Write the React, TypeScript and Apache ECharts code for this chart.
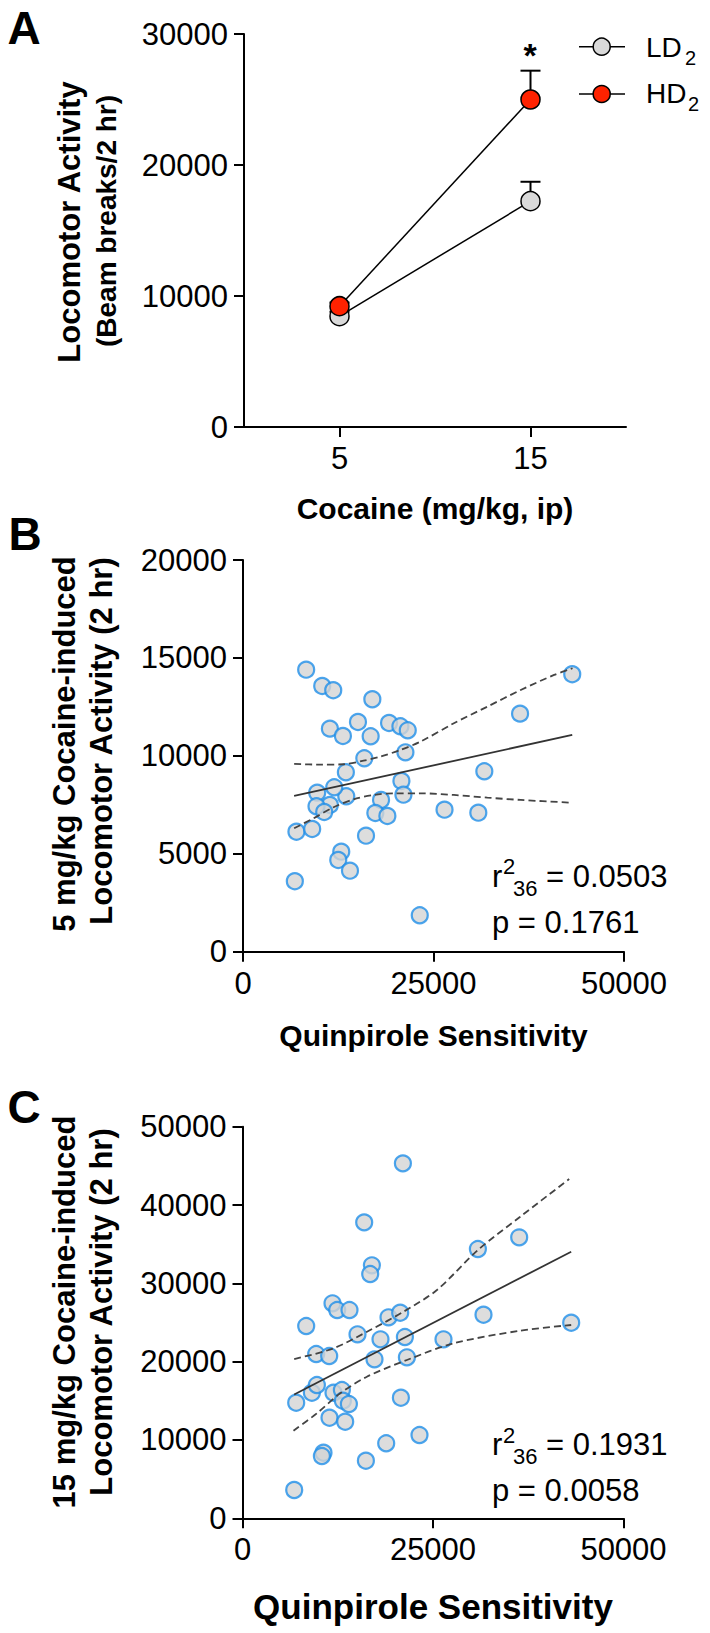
import React, { useEffect, useRef } from 'react';
import * as echarts from 'echarts';

// ---------- Panel A data ----------
const doseCategories = ['5', '15'];
const ldMeans = [8460, 17240];
const ldErrTop = [8800, 18720];
const hdMeans = [9220, 25000];
const hdErrTop = [9500, 27200];

// ---------- Panel B data (5 mg/kg) ----------
const bQuin = [8290, 10395, 11842, 16974, 11404, 13114, 15088, 16754, 19167, 20658, 21623, 21316, 15920, 13500, 20790, 21053, 18116, 17368, 18948, 16145, 13553, 11974, 9737, 11404, 9645, 10658, 7013, 9079, 12895, 12500, 14040, 6803, 26447, 30882, 31671, 36360, 43206, 23197];
const bLoco = [14400, 13570, 13350, 12890, 11390, 11016, 11730, 11000, 11680, 11510, 11306, 10180, 9877, 9160, 8718, 8018, 7748, 7083, 6930, 5924, 7936, 8396, 8120, 7492, 7426, 7135, 6128, 6266, 5107, 4683, 4137, 3600, 7252, 7099, 9213, 12155, 14167, 1860];
const bFitX = [6711, 43206];
const bFitY = [7952, 11067];
const bUpperX = [6711, 10132, 13200, 15833, 18026, 20658, 23290, 27675, 32066, 36447, 40830, 43250];
const bUpperY = [9586, 9551, 9570, 9755, 9959, 10301, 10725, 11664, 12512, 13365, 14131, 14473];
const bLowerX = [6711, 9250, 11882, 14513, 17145, 19776, 23290, 27675, 32066, 36447, 43026];
const bLowerY = [6302, 6811, 7374, 7783, 8003, 8089, 8089, 8003, 7865, 7748, 7610];
const bStats = ['36', '0.0503', '0.1761'];

// ---------- Panel C data (15 mg/kg) ----------
const cQuin = [21050, 15970, 16981, 16758, 30891, 36311, 11811, 12428, 14042, 8359, 19160, 20695, 31627, 43136, 15092, 18110, 21312, 26377, 9672, 11378, 17323, 21574, 7047, 9107, 9763, 11942, 13044, 13175, 13963, 11417, 13477, 20786, 23228, 18858, 16194, 10630, 10420, 6785];
const cLoco = [45320, 37787, 32298, 31188, 34379, 35872, 27447, 26591, 26591, 24549, 25660, 26247, 25992, 24970, 23489, 22851, 23145, 22851, 20975, 20719, 20298, 20553, 14758, 16034, 17017, 16034, 16379, 15013, 14592, 12843, 12332, 15396, 10634, 9574, 7353, 8375, 7953, 3613];
const cFitX = [6785, 43136];
const cFitY = [15800, 34037];
const cUpperX = [6785, 11942, 16758, 21128, 25511, 30891, 36442, 42873];
const cUpperY = [20336, 21702, 24039, 26375, 29145, 34251, 38502, 43317];
const cLowerX = [6693, 9763, 12821, 16325, 21574, 27690, 36442, 43136];
const cLowerY = [11183, 13404, 15958, 18077, 20209, 22340, 23951, 24679];
const cStats = ['36', '0.1931', '0.0058'];

const FONT = '"Liberation Sans", Arial, Helvetica, sans-serif';

const zip = (xs: number[], ys: number[]) => xs.map((x, i) => [x, ys[i]]);

function txt(x: number, y: number, text: string, fontSize: number, opts: any = {}) {
  return {
    type: 'text',
    x,
    y,
    rotation: opts.rotation || 0,
    style: {
      text,
      fontSize,
      fontFamily: FONT,
      fontWeight: opts.bold ? 'bold' : 'normal',
      fill: '#000',
      align: opts.align || 'left',
      verticalAlign: 'middle',
    },
    z: 100,
  };
}

const axisCommon = {
  axisLine: { show: true, lineStyle: { color: '#000', width: 2 } },
  axisTick: { show: true, length: 10, lineStyle: { color: '#000', width: 2 } },
  axisLabel: { color: '#000', fontSize: 31, margin: 16, fontFamily: FONT, formatter: (v: any) => String(v) },
  splitLine: { show: false },
};

export default function App() {
  const ref = useRef<HTMLDivElement>(null);
  useEffect(() => {
    document.body.style.margin = '0';
    if (!ref.current) return;
    const chart = echarts.init(ref.current, undefined, { renderer: 'svg' });

    const errRender = (params: any, api: any) => {
      const i = api.value(0);
      const base = api.coord([i, api.value(1)]);
      const top = api.coord([i, api.value(2)]);
      const w = 10;
      return {
        type: 'group',
        children: [
          { type: 'line', shape: { x1: base[0], y1: base[1], x2: top[0], y2: top[1] }, style: { stroke: '#000', lineWidth: 2 } },
          { type: 'line', shape: { x1: top[0] - w, y1: top[1], x2: top[0] + w, y2: top[1] }, style: { stroke: '#000', lineWidth: 2 } },
        ],
      };
    };

    const scatterStyle = { color: '#d4d4d4', borderColor: '#1f8fe8', borderWidth: 2.2 };
    const fitStyle = { color: '#333', width: 1.8 };
    const ciStyle = { color: '#444', width: 1.8, type: [7, 4] as any };

    const option: any = {
      animation: false,
      grid: [
        { left: 244, top: 34, width: 382, height: 393 },
        { left: 243, top: 560, width: 381, height: 391.7 },
        { left: 242.5, top: 1126.7, width: 381, height: 391.6 },
      ],
      xAxis: [
        { ...axisCommon, gridIndex: 0, type: 'category', data: doseCategories, boundaryGap: true,
          axisTick: { ...axisCommon.axisTick, alignWithLabel: true } },
        { ...axisCommon, gridIndex: 1, type: 'value', min: 0, max: 50000, interval: 25000 },
        { ...axisCommon, gridIndex: 2, type: 'value', min: 0, max: 50000, interval: 25000 },
      ],
      yAxis: [
        { ...axisCommon, gridIndex: 0, type: 'value', min: 0, max: 30000, interval: 10000 },
        { ...axisCommon, gridIndex: 1, type: 'value', min: 0, max: 20000, interval: 5000 },
        { ...axisCommon, gridIndex: 2, type: 'value', min: 0, max: 50000, interval: 10000 },
      ],
      series: [
        // Panel A
        { type: 'custom', xAxisIndex: 0, yAxisIndex: 0, renderItem: errRender, encode: { x: 0, y: [1, 2] },
          data: doseCategories.map((_, i) => [i, ldMeans[i], ldErrTop[i]]), z: 1 },
        { type: 'custom', xAxisIndex: 0, yAxisIndex: 0, renderItem: errRender, encode: { x: 0, y: [1, 2] },
          data: doseCategories.map((_, i) => [i, hdMeans[i], hdErrTop[i]]), z: 1 },
        { type: 'line', name: 'LD2', xAxisIndex: 0, yAxisIndex: 0, data: ldMeans, symbol: 'circle', symbolSize: 19,
          itemStyle: { color: '#d9d9d9', borderColor: '#000', borderWidth: 1.5 }, lineStyle: { color: '#000', width: 1.5 }, z: 3 },
        { type: 'line', name: 'HD2', xAxisIndex: 0, yAxisIndex: 0, data: hdMeans, symbol: 'circle', symbolSize: 19,
          itemStyle: { color: '#ff2200', borderColor: '#000', borderWidth: 1.5 }, lineStyle: { color: '#000', width: 1.5 }, z: 4 },
        // Panel B
        { type: 'scatter', xAxisIndex: 1, yAxisIndex: 1, data: zip(bQuin, bLoco), symbolSize: 16, itemStyle: scatterStyle, z: 2 },
        { type: 'line', xAxisIndex: 1, yAxisIndex: 1, data: zip(bFitX, bFitY), symbol: 'none', lineStyle: fitStyle, z: 5 },
        { type: 'line', xAxisIndex: 1, yAxisIndex: 1, data: zip(bUpperX, bUpperY), symbol: 'none', smooth: 0.3, lineStyle: ciStyle, z: 5 },
        { type: 'line', xAxisIndex: 1, yAxisIndex: 1, data: zip(bLowerX, bLowerY), symbol: 'none', smooth: 0.3, lineStyle: ciStyle, z: 5 },
        // Panel C
        { type: 'scatter', xAxisIndex: 2, yAxisIndex: 2, data: zip(cQuin, cLoco), symbolSize: 16, itemStyle: scatterStyle, z: 2 },
        { type: 'line', xAxisIndex: 2, yAxisIndex: 2, data: zip(cFitX, cFitY), symbol: 'none', lineStyle: fitStyle, z: 5 },
        { type: 'line', xAxisIndex: 2, yAxisIndex: 2, data: zip(cUpperX, cUpperY), symbol: 'none', smooth: 0.3, lineStyle: ciStyle, z: 5 },
        { type: 'line', xAxisIndex: 2, yAxisIndex: 2, data: zip(cLowerX, cLowerY), symbol: 'none', smooth: 0.3, lineStyle: ciStyle, z: 5 },
      ],
      graphic: [
        // panel letters
        txt(24, 28, 'A', 46, { bold: true, align: 'center' }),
        txt(25, 534, 'B', 46, { bold: true, align: 'center' }),
        txt(24, 1107, 'C', 46, { bold: true, align: 'center' }),
        // Panel A axis titles
        txt(69, 222, 'Locomotor Activity', 31, { bold: true, align: 'center', rotation: Math.PI / 2 }),
        txt(106, 221, '(Beam breaks/2 hr)', 28, { bold: true, align: 'center', rotation: Math.PI / 2 }),
        txt(435, 508, 'Cocaine (mg/kg, ip)', 30, { bold: true, align: 'center' }),
        // asterisk
        txt(530, 55, '*', 34, { bold: true, align: 'center' }),
        // legend
        { type: 'line', shape: { x1: 579, y1: 46.7, x2: 625, y2: 46.7 }, style: { stroke: '#000', lineWidth: 1.5 }, z: 100 },
        { type: 'circle', shape: { cx: 601.7, cy: 46.7, r: 8.5 }, style: { fill: '#d9d9d9', stroke: '#000', lineWidth: 1.5 }, z: 101 },
        { type: 'line', shape: { x1: 579, y1: 94, x2: 625, y2: 94 }, style: { stroke: '#000', lineWidth: 1.5 }, z: 100 },
        { type: 'circle', shape: { cx: 601.7, cy: 94, r: 8.5 }, style: { fill: '#ff2200', stroke: '#000', lineWidth: 1.5 }, z: 101 },
        txt(646, 47, 'LD', 28),
        txt(685, 58, '2', 20),
        txt(646, 93, 'HD', 28),
        txt(688, 104, '2', 20),
        // Panel B titles
        txt(64, 744, '5 mg/kg Cocaine-induced', 31, { bold: true, align: 'center', rotation: Math.PI / 2 }),
        txt(101, 741, 'Locomotor Activity (2 hr)', 31, { bold: true, align: 'center', rotation: Math.PI / 2 }),
        txt(433.5, 1035, 'Quinpirole Sensitivity', 30, { bold: true, align: 'center' }),
        // Panel B stats
        txt(492, 876, 'r', 31),
        txt(503, 866.5, '2', 22),
        txt(513, 888.5, bStats[0], 22),
        txt(546, 876, '= ' + bStats[1], 31),
        txt(492, 922.5, 'p = ' + bStats[2], 31),
        // Panel C titles
        txt(64, 1312, '15 mg/kg Cocaine-induced', 31, { bold: true, align: 'center', rotation: Math.PI / 2 }),
        txt(101, 1312, 'Locomotor Activity (2 hr)', 31, { bold: true, align: 'center', rotation: Math.PI / 2 }),
        txt(433, 1606.7, 'Quinpirole Sensitivity', 35, { bold: true, align: 'center' }),
        // Panel C stats
        txt(492, 1444, 'r', 31),
        txt(503, 1435, '2', 22),
        txt(513, 1456, cStats[0], 22),
        txt(546, 1444, '= ' + cStats[1], 31),
        txt(492, 1490, 'p = ' + cStats[2], 31),
      ],
    };
    chart.setOption(option);
    return () => chart.dispose();
  }, []);
  return <div ref={ref} style={{ width: 710, height: 1633 }} />;
}
